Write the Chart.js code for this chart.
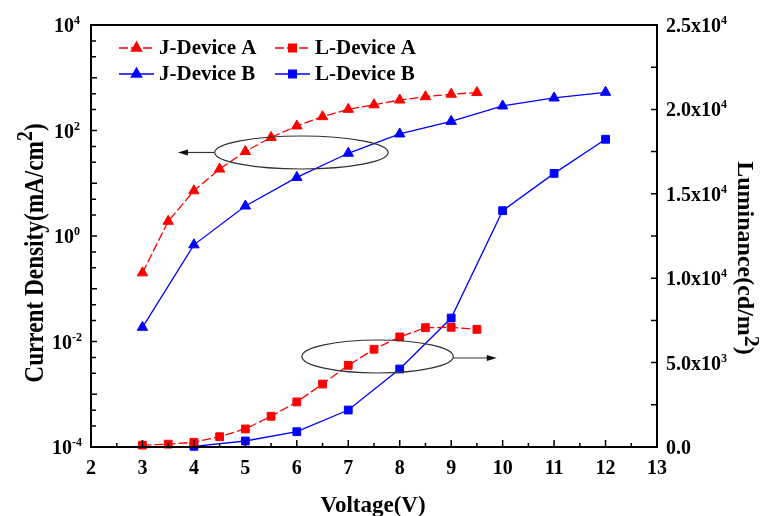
<!DOCTYPE html>
<html>
<head>
<meta charset="utf-8">
<script src="https://cdn.jsdelivr.net/npm/chart.js@4.4.0/dist/chart.umd.min.js"></script>
<style>
  html, body { margin: 0; padding: 0; background: #fff; }
</style>
</head>
<body>
<canvas id="chart" width="766" height="516"></canvas>
<script>
// === DATA ===
const voltsA = [3, 3.5, 4, 4.5, 5, 5.5, 6, 6.5, 7, 7.5, 8, 8.5, 9, 9.5];
const jDeviceA = [0.2, 1.9, 7.2, 18.6, 40, 74, 122, 183, 252, 307, 378, 437, 488, 524];
const lDeviceA = [110, 170, 280, 610, 1070, 1820, 2670, 3730, 4840, 5790, 6520, 7070, 7090, 6970];

const voltsJB = [3, 4, 5, 6, 7, 8, 9, 10, 11, 12];
const jDeviceB = [0.0186, 0.68, 3.7, 12.9, 37, 86, 149, 292, 414, 530];
const voltsLB = [4, 5, 6, 7, 8, 9, 10, 11, 12];
const lDeviceB = [40, 355, 906, 2190, 4620, 7640, 14000, 16210, 18230];

// axis ticks / labels
const voltTicks = [2, 3, 4, 5, 6, 7, 8, 9, 10, 11, 12, 13];
const decadeExps = [-4, -3, -2, -1, 0, 1, 2, 3, 4];
const labeledExps = [-4, -2, 0, 2, 4];
const lumTicks = [0, 5000, 10000, 15000, 20000, 25000];
const lumMantissa = ['0.0', '5.0', '1.0', '1.5', '2.0', '2.5'];
const lumExp = [null, '3', '4', '4', '4', '4'];

const SERIF = '"Liberation Serif", "Times New Roman", serif';
const RED = '#ff0000';
const BLUE = '#0000ff';
const TICK_FONT = 20;

const pts = (xs, ys) => xs.map((x, i) => ({ x: x, y: ys[i] }));

// === DRAWING HELPERS ===
function supText(ctx, base, sup, x, y, baseSize, supSize, rise) {
  // draws base + superscript starting at x (left), baseline y
  ctx.font = `bold ${baseSize}px ${SERIF}`;
  ctx.fillText(base, x, y);
  const w = ctx.measureText(base).width;
  if (sup) {
    ctx.font = `bold ${supSize}px ${SERIF}`;
    ctx.fillText(sup, x + w, y - rise);
    return w + ctx.measureText(sup).width;
  }
  return w;
}

function arrow(ctx, x0, y0, x1, y1) {
  const ang = Math.atan2(y1 - y0, x1 - x0);
  ctx.beginPath();
  ctx.moveTo(x0, y0);
  ctx.lineTo(x1 - Math.cos(ang) * 6, y1 - Math.sin(ang) * 6);
  ctx.stroke();
  ctx.beginPath();
  ctx.moveTo(x1, y1);
  ctx.lineTo(x1 - Math.cos(ang) * 10 + Math.sin(ang) * 3, y1 - Math.sin(ang) * 10 - Math.cos(ang) * 3);
  ctx.lineTo(x1 - Math.cos(ang) * 10 - Math.sin(ang) * 3, y1 - Math.sin(ang) * 10 + Math.cos(ang) * 3);
  ctx.closePath();
  ctx.fill();
}

const decorations = {
  id: 'decorations',
  afterDraw(chart) {
    const ctx = chart.ctx;
    const { left, right, top, bottom } = chart.chartArea;
    const sx = chart.scales.x, sy = chart.scales.y, sr = chart.scales.y1;
    ctx.save();
    ctx.fillStyle = '#000';
    ctx.strokeStyle = '#000';

    // frame
    ctx.lineWidth = 2;
    ctx.strokeRect(left, top, right - left, bottom - top);

    // x ticks (inward)
    ctx.lineWidth = 1.5;
    ctx.beginPath();
    voltTicks.forEach((v, i) => {
      const px = sx.getPixelForValue(v);
      ctx.moveTo(px, bottom); ctx.lineTo(px, bottom - 7);
      if (i < voltTicks.length - 1) {
        const mx = sx.getPixelForValue(v + 0.5);
        ctx.moveTo(mx, bottom); ctx.lineTo(mx, bottom - 4);
      }
    });
    // left ticks: decades plus 2.5x and 5x
    decadeExps.forEach(e => {
      const py = sy.getPixelForValue(Math.pow(10, e));
      ctx.moveTo(left, py); ctx.lineTo(left + 6, py);
      if (e < 4) {
        [2.5, 5].forEach(m => {
          const my = sy.getPixelForValue(m * Math.pow(10, e));
          ctx.moveTo(left, my); ctx.lineTo(left + 5, my);
        });
      }
    });
    // right ticks
    lumTicks.forEach((v, i) => {
      const py = sr.getPixelForValue(v);
      ctx.moveTo(right, py); ctx.lineTo(right - 6, py);
      if (i < lumTicks.length - 1) {
        const my = sr.getPixelForValue(v + 2500);
        ctx.moveTo(right, my); ctx.lineTo(right - 6, my);
      }
    });
    ctx.stroke();

    // left tick labels 10^n, centred at x = 67
    ctx.textBaseline = 'alphabetic';
    ctx.textAlign = 'left';
    labeledExps.forEach(e => {
      const py = sy.getPixelForValue(Math.pow(10, e));
      ctx.font = `bold ${TICK_FONT}px ${SERIF}`;
      const wb = ctx.measureText('10').width;
      ctx.font = `bold 12px ${SERIF}`;
      const ws = ctx.measureText(String(e)).width;
      const x0 = 67 - (wb + ws) / 2;
      supText(ctx, '10', String(e), x0, py + 7, TICK_FONT, 12, 8);
    });

    // right tick labels
    lumTicks.forEach((v, i) => {
      const py = sr.getPixelForValue(v);
      const base = lumExp[i] ? lumMantissa[i] + 'x10' : lumMantissa[i];
      supText(ctx, base, lumExp[i], 666, py + 7, TICK_FONT, 12, 8);
    });

    // x title
    ctx.font = `bold 23px ${SERIF}`;
    ctx.textAlign = 'center';
    ctx.fillText('Voltage(V)', 373, 512);
    ctx.textAlign = 'left';

    // left title (rotated, condensed)
    ctx.save();
    ctx.translate(43, 253);
    ctx.rotate(-Math.PI / 2);
    ctx.scale(0.83, 1);
    ctx.font = `bold 28px ${SERIF}`;
    const lt1 = 'Current Density(mA/cm', lt2 = ')';
    const w1 = ctx.measureText(lt1).width, w3 = ctx.measureText(lt2).width;
    ctx.font = `bold 24px ${SERIF}`;
    const w2 = ctx.measureText('2').width;
    const lx = -(w1 + w2 + w3) / 2;
    ctx.font = `bold 28px ${SERIF}`;
    ctx.fillText(lt1, lx, 0);
    ctx.font = `bold 24px ${SERIF}`;
    ctx.fillText('2', lx + w1, -11);
    ctx.font = `bold 28px ${SERIF}`;
    ctx.fillText(lt2, lx + w1 + w2, 0);
    ctx.restore();

    // right title (rotated clockwise)
    ctx.save();
    ctx.translate(738, 258);
    ctx.rotate(Math.PI / 2);
    ctx.font = `bold 24px ${SERIF}`;
    const rt1 = 'Luminance(cd/m', rt2 = ')';
    const r1 = ctx.measureText(rt1).width, r3 = ctx.measureText(rt2).width;
    ctx.font = `bold 22px ${SERIF}`;
    const r2 = ctx.measureText('2').width;
    const rx = -(r1 + r2 + r3) / 2;
    ctx.font = `bold 24px ${SERIF}`;
    ctx.fillText(rt1, rx, 0);
    ctx.font = `bold 22px ${SERIF}`;
    ctx.fillText('2', rx + r1, -7);
    ctx.font = `bold 24px ${SERIF}`;
    ctx.fillText(rt2, rx + r1 + r2, 0);
    ctx.restore();

    // ellipses with arrows pointing to the relevant axis
    ctx.strokeStyle = '#333';
    ctx.fillStyle = '#111';
    ctx.lineWidth = 1.2;
    const e1x = sx.getPixelForValue(6.09), e1y = sy.getPixelForValue(38.3);
    ctx.beginPath();
    ctx.ellipse(e1x, e1y, 86.7, 16.5, 0, 0, Math.PI * 2);
    ctx.stroke();
    arrow(ctx, e1x - 86.7, e1y, sx.getPixelForValue(3.69), e1y);

    const e2x = sx.getPixelForValue(7.57), e2y = sr.getPixelForValue(5360);
    ctx.beginPath();
    ctx.ellipse(e2x, e2y, 75.7, 16.5, 0, 0, Math.PI * 2);
    ctx.stroke();
    arrow(ctx, e2x + 75.7, e2y + 1.5, sx.getPixelForValue(9.885), e2y + 1.5);

    // legend (2 x 2)
    const items = [
      { ds: 0, x: 119, y: 48 }, { ds: 1, x: 275, y: 48 },
      { ds: 2, x: 119, y: 74 }, { ds: 3, x: 275, y: 74 }
    ];
    items.forEach(it => {
      const d = chart.data.datasets[it.ds];
      ctx.strokeStyle = d.borderColor;
      ctx.fillStyle = d.borderColor;
      ctx.lineWidth = d.borderWidth;
      ctx.setLineDash(d.borderDash || []);
      ctx.beginPath();
      ctx.moveTo(it.x, it.y); ctx.lineTo(it.x + 35, it.y);
      ctx.stroke();
      ctx.setLineDash([]);
      Chart.helpers.drawPoint(ctx, {
        pointStyle: d.pointStyle, radius: d.pointRadius, rotation: 0, borderWidth: 1
      }, it.x + 17.5, it.y);
      ctx.fillStyle = '#000';
      ctx.font = `bold 21px ${SERIF}`;
      ctx.textAlign = 'left';
      ctx.textBaseline = 'middle';
      ctx.fillText(d.label, it.x + 40, it.y + 1);
      ctx.textBaseline = 'alphabetic';
    });

    ctx.restore();
  }
};

// === CHART ===
const common = { borderWidth: 1.3, pointBorderWidth: 1, clip: false, tension: 0 };

new Chart(document.getElementById('chart'), {
  type: 'line',
  data: {
    datasets: [
      Object.assign({
        label: 'J-Device A', data: pts(voltsA, jDeviceA), yAxisID: 'y',
        borderColor: RED, backgroundColor: RED, pointBackgroundColor: RED, pointBorderColor: RED,
        borderDash: [9, 3], pointStyle: 'triangle', pointRadius: 6
      }, common),
      Object.assign({
        label: 'L-Device A', data: pts(voltsA, lDeviceA), yAxisID: 'y1',
        borderColor: RED, backgroundColor: RED, pointBackgroundColor: RED, pointBorderColor: RED,
        borderDash: [9, 3], pointStyle: 'rect', pointRadius: 5.5
      }, common),
      Object.assign({
        label: 'J-Device B', data: pts(voltsJB, jDeviceB), yAxisID: 'y',
        borderColor: BLUE, backgroundColor: BLUE, pointBackgroundColor: BLUE, pointBorderColor: BLUE,
        pointStyle: 'triangle', pointRadius: 6
      }, common),
      Object.assign({
        label: 'L-Device B', data: pts(voltsLB, lDeviceB), yAxisID: 'y1',
        borderColor: BLUE, backgroundColor: BLUE, pointBackgroundColor: BLUE, pointBorderColor: BLUE,
        pointStyle: 'rect', pointRadius: 5.5
      }, common)
    ]
  },
  options: {
    responsive: false,
    animation: false,
    layout: { padding: { top: 25, left: 0, right: 0, bottom: 0 } },
    plugins: { legend: { display: false }, tooltip: { enabled: false } },
    scales: {
      x: {
        type: 'linear', position: 'bottom', min: 2, max: 13,
        grid: { display: false, drawTicks: false },
        border: { display: false },
        ticks: {
          stepSize: 1, autoSkip: false, maxRotation: 0, padding: 10, color: '#000',
          font: { family: SERIF, size: TICK_FONT, weight: 'bold' }
        },
        afterFit(s) { s.height = 69; }
      },
      y: {
        type: 'logarithmic', position: 'left', min: 1e-4, max: 1e4,
        grid: { display: false, drawTicks: false },
        border: { display: false },
        ticks: { display: false },
        afterFit(s) { s.width = 91; }
      },
      y1: {
        type: 'linear', position: 'right', min: 0, max: 25000,
        grid: { display: false, drawTicks: false },
        border: { display: false },
        ticks: { display: false },
        afterFit(s) { s.width = 109; }
      }
    }
  },
  plugins: [decorations]
});
</script>
</body>
</html>
